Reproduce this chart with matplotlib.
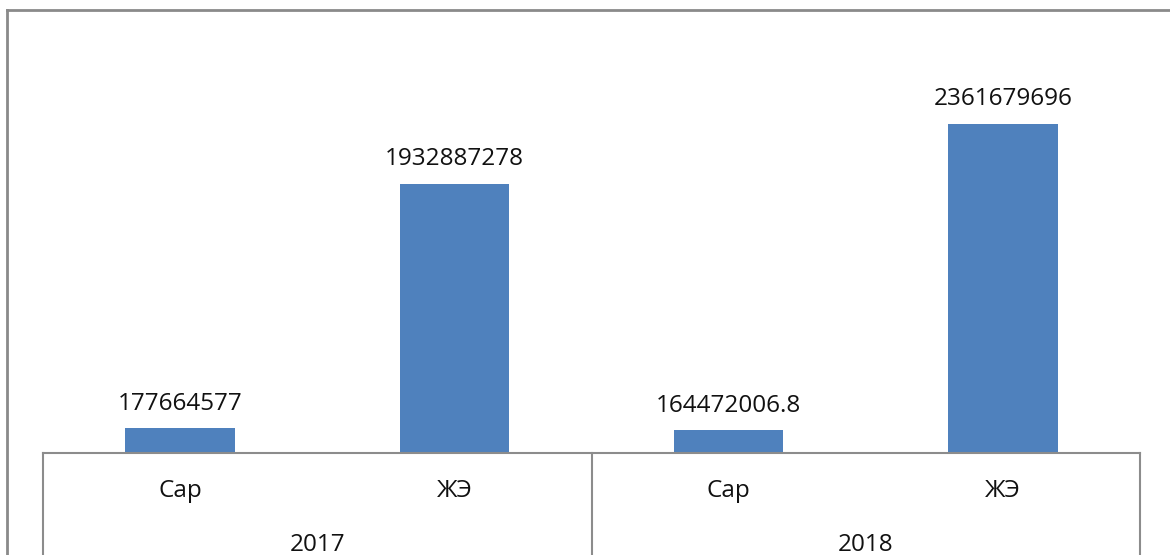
import matplotlib
matplotlib.use("Agg")
import matplotlib.pyplot as plt
from matplotlib.lines import Line2D

years = ["2017", "2018"]
categories = ["Сар", "ЖЭ", "Сар", "ЖЭ"]
values = [177664577, 1932887278, 164472006.8, 2361679696]

plt.rcParams['font.family'] = ['Open Sans', 'DejaVu Sans']

W, H = 1170, 555
fig = plt.figure(figsize=(W / 100, H / 100), dpi=100)

# axes placement in pixels
ax_left, ax_right = 43, 1140
ax_bottom, ax_top = 453, 35
ax = fig.add_axes([ax_left / W, 1 - ax_bottom / H, (ax_right - ax_left) / W, (ax_bottom - ax_top) / H])

x = list(range(len(values)))
ax.bar(x, values, width=0.4, color="#4F81BD")
ax.set_xlim(-0.5, len(values) - 0.5)
ax.set_ylim(0, 3.0e9)

def fmt(v):
    return str(int(v)) if float(v).is_integer() else str(v)

for xi, v in zip(x, values):
    ax.annotate(fmt(v), (xi, v), xytext=(0, 9), textcoords="offset points",
                ha="center", va="bottom", fontsize=17.5, color="#111111")

for s in ["top", "right", "left"]:
    ax.spines[s].set_visible(False)
ax.spines["bottom"].set_color("#8c8c8c")
ax.spines["bottom"].set_linewidth(1.5)
ax.set_yticks([])
ax.set_xticks([])

trans = ax.get_xaxis_transform()
gray = "#8c8c8c"
# vertical separators for multi-level axis
for xv in [-0.5, 1.5, len(values) - 0.5]:
    ax.add_line(Line2D([xv, xv], [0, -0.3], transform=trans, color=gray, lw=1.5, clip_on=False))

# category labels
for xi, c in zip(x, categories):
    ax.text(xi, -38 / (ax_bottom - ax_top), c, transform=trans, ha="center", va="center",
            fontsize=17.5, color="#111111")
# year labels
for i, yr in enumerate(years):
    ax.text(2 * i + 0.5, -92 / (ax_bottom - ax_top), yr, transform=trans, ha="center", va="center",
            fontsize=17.5, color="#111111")

# outer chart border (extends beyond image right/bottom)
fig.add_artist(Line2D([7 / W, 1.01], [1 - 10 / H, 1 - 10 / H], transform=fig.transFigure, color="#8a8a8a", lw=2))
fig.add_artist(Line2D([7 / W, 7 / W], [1 - 10 / H, -0.01], transform=fig.transFigure, color="#8a8a8a", lw=2))

fig.savefig("out.png", dpi=100)
